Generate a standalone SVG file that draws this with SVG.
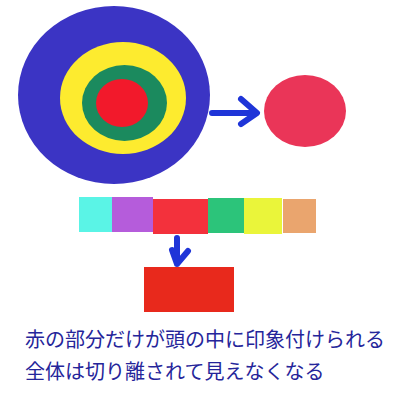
<svg xmlns="http://www.w3.org/2000/svg" width="400" height="400" viewBox="0 0 400 400">
<style>
.t{font-family:"Noto Sans CJK JP","Noto Sans CJK SC",sans-serif;font-size:20px;fill:#25259a}
.arr{fill:none;stroke:#1f35d8;stroke-width:6;stroke-linecap:round;stroke-linejoin:round}
</style>
<rect width="400" height="400" fill="#ffffff"/>
<g id="target">
<ellipse cx="114" cy="95" rx="96" ry="89" fill="#3b34c4"/>
<ellipse cx="123" cy="98" rx="63" ry="56" fill="#fdeb2f"/>
<ellipse cx="124.5" cy="103" rx="42.5" ry="38" fill="#1b8a5e"/>
<ellipse cx="122" cy="103" rx="26" ry="24" fill="#f2192b"/>
</g>
<g id="red-circle">
<ellipse cx="305" cy="111" rx="41" ry="36" fill="#ea3558"/>
</g>
<g id="bars">
<rect x="79" y="197" width="33" height="35" fill="#5af4e6"/>
<rect x="112" y="197" width="41" height="35" fill="#b55cdb"/>
<rect x="153" y="199" width="55" height="35" fill="#f3313c"/>
<rect x="208" y="198" width="36" height="35" fill="#2cc47a"/>
<rect x="244" y="198" width="38" height="36" fill="#eaf53a"/>
<rect x="283" y="199" width="33" height="34" fill="#eaa56e"/>
</g>
<g id="red-box">
<rect x="144" y="267" width="90" height="45" fill="#e8291c"/>
</g>
<g id="connectors">
<path class="arr" d="M212 113 H256 M241 99 L257 113 L241 124"/>
<path class="arr" d="M177 238 V264 M172 250 L177 264 L188 251"/>
</g>
<g id="caption">
<text class="t" x="25" y="347">赤の部分だけが頭の中に印象付けられる</text>
<text class="t" x="25" y="379">全体は切り離されて見えなくなる</text>
</g>
</svg>
